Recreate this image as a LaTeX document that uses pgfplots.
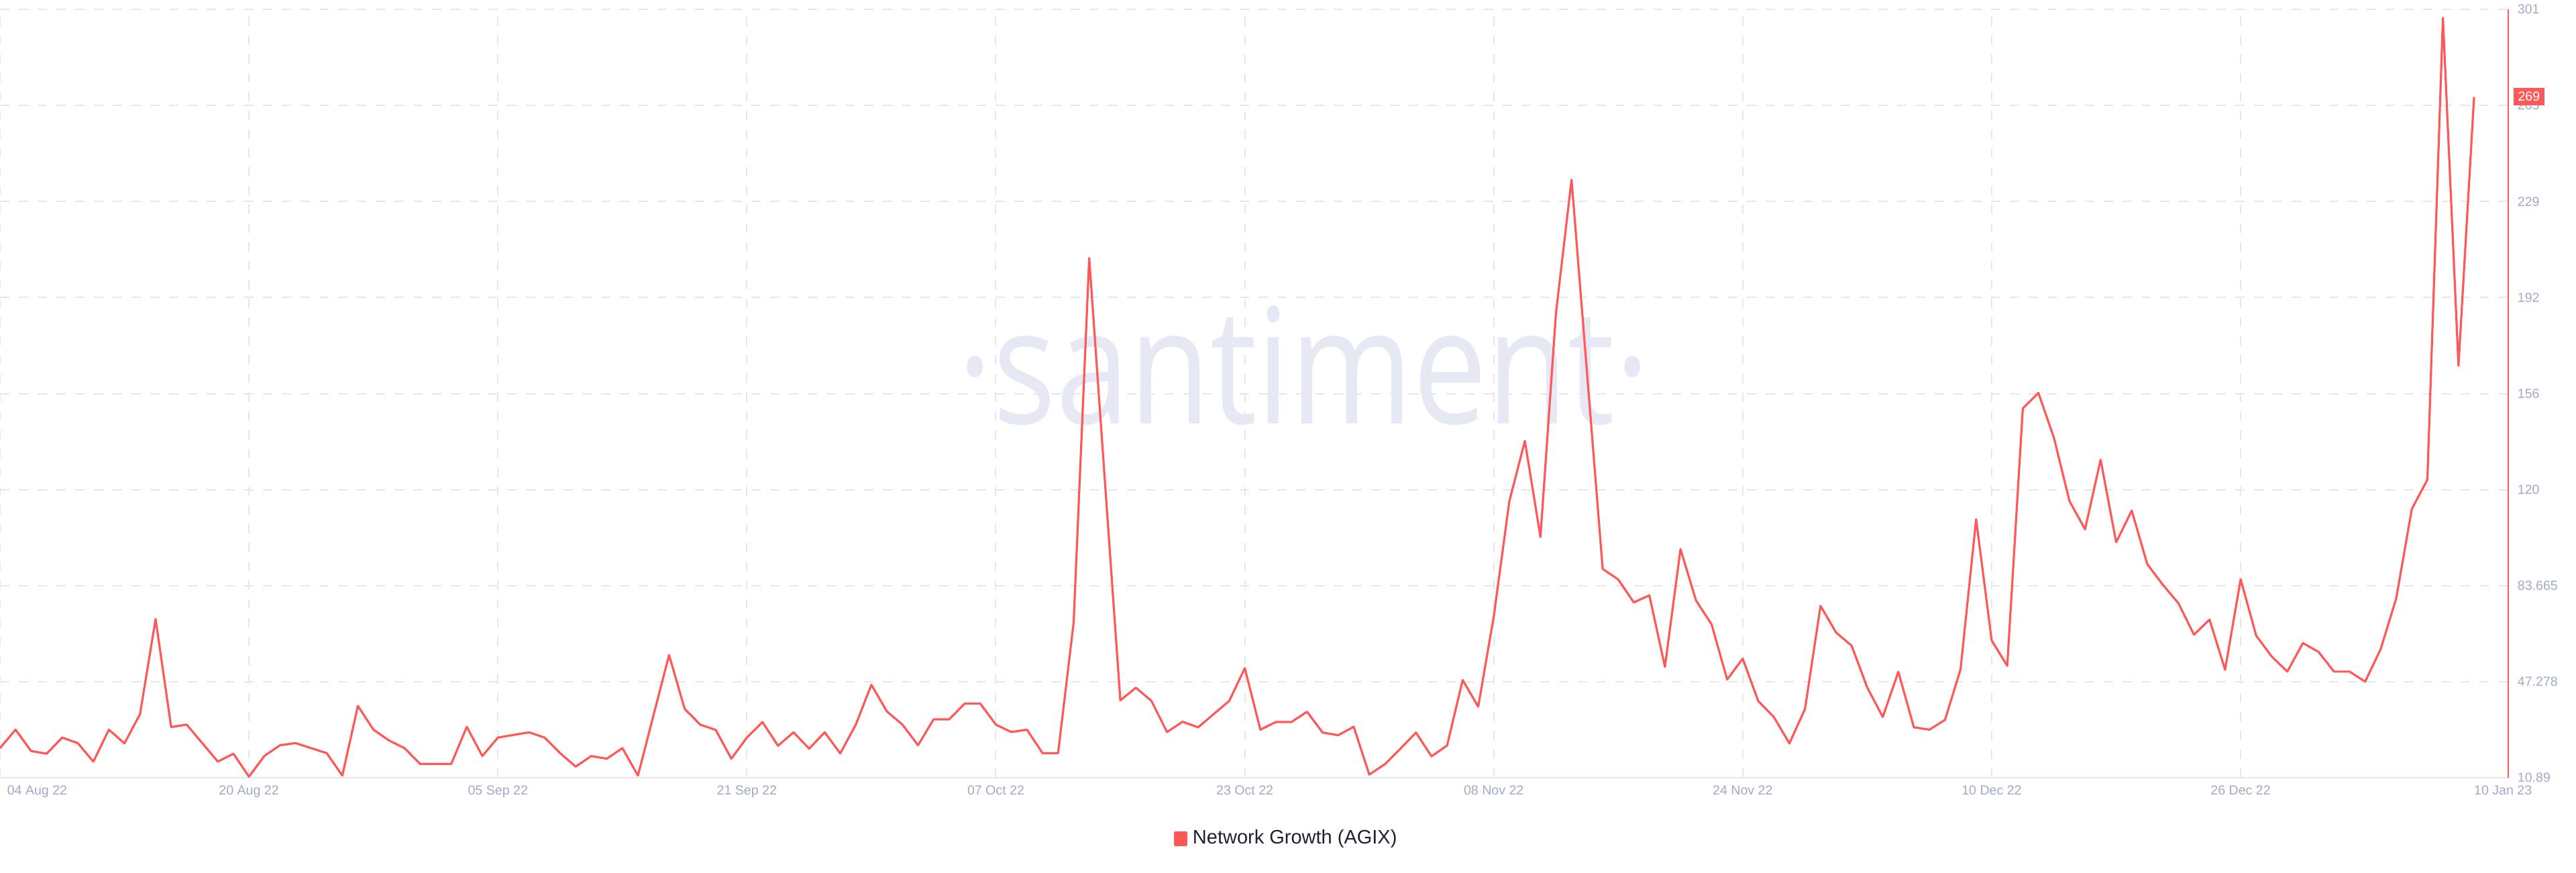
\documentclass[border=0pt]{standalone}
\usepackage{pgfplots}
\pgfplotsset{compat=1.18}
\usepackage{fontspec}
\setmainfont{Liberation Sans}
\newfontfamily\wmfont{Open Sans}
\definecolor{linered}{RGB}{255,88,88}
\definecolor{tickgray}{RGB}{160,170,196}
\definecolor{gridgray}{RGB}{228,231,242}
\definecolor{wmcolor}{RGB}{230,233,244}
\definecolor{legtext}{RGB}{30,33,48}
\pgfplotstableread{
d v
0 22.1
1 29.1
2 21.0
3 20.0
4 26.1
5 24.0
6 17.0
7 29.1
8 23.9
9 35.0
10 71.0
11 30.1
12 31.0
13 24.0
14 17.0
15 20.0
16 11.3
17 19.2
18 23.2
19 24.0
20 22.1
21 20.2
22 11.7
23 38.1
24 29.1
25 25.0
26 22.1
27 16.1
28 16.1
29 16.1
30 30.2
31 19.1
32 26.1
33 27.1
34 28.1
35 26.1
36 20.2
37 15.1
38 19.1
39 18.1
40 22.1
41 11.7
42 34.6
43 57.4
44 37.0
45 31.0
46 29.0
47 18.1
48 26.1
49 32.0
50 23.0
51 28.1
52 21.9
53 28.1
54 20.1
55 31.0
56 46.1
57 36.0
58 31.0
59 23.2
60 33.0
61 33.0
62 39.0
63 39.0
64 31.0
65 28.2
66 29.1
67 20.2
68 20.2
69 69.7
70 207.8
71 124.0
72 40.2
73 45.0
74 40.0
75 28.2
76 32.1
77 30.0
78 35.0
79 40.0
80 52.4
81 29.1
82 32.0
83 32.0
84 35.9
85 28.0
86 27.0
87 30.2
88 12.1
89 16.0
90 21.9
91 28.0
92 19.0
93 23.1
94 47.9
95 37.8
96 72.0
97 115.6
98 138.5
99 102.1
100 187.1
101 237.5
102 163.8
103 90.0
104 86.0
105 77.3
106 80.0
107 52.9
108 97.5
109 78.0
110 69.0
111 48.1
112 56.0
113 39.9
114 33.9
115 23.9
116 36.9
117 76.0
118 65.9
119 60.9
120 45.1
121 33.9
122 51.0
123 30.0
124 29.1
125 32.8
126 52.0
127 108.8
128 62.9
129 53.3
130 150.8
131 156.7
132 139.7
133 115.7
134 105.0
135 131.4
136 100.1
137 112.1
138 91.8
139 84.0
140 77.0
141 65.1
142 70.8
143 51.8
144 86.1
145 64.7
146 56.8
147 51.1
148 61.9
149 58.6
150 51.1
151 51.1
152 47.3
153 59.6
154 78.9
155 112.7
156 123.8
157 298.8
158 167.0
159 268.8
}\datatable
\begin{document}
\begin{tikzpicture}[x=1pt,y=1pt]
\path[use as bounding box] (0,-35.25) rectangle (960,289.75);
\begin{axis}[
  at={(0,0)}, anchor=south west,
  scale only axis, width=934.75pt, height=286.25pt,
  xmin=0, xmax=161.2, ymin=10.89, ymax=301.99,
  clip=false,
  axis x line*=bottom, axis y line*=right,
  x axis line style={draw=gridgray, line width=0.55pt},
  y axis line style={draw=linered, line width=0.45pt},
  xtick={0,16,32,48,64,80,96,112,128,144},
  xticklabels={,20 Aug 22,05 Sep 22,21 Sep 22,07 Oct 22,23 Oct 22,08 Nov 22,24 Nov 22,10 Dec 22,26 Dec 22},
  ytick={10.89,47.2775,83.665,120.0525,156.44,192.8275,229.215,265.6025,301.99},
  yticklabels={10.89,47.278,83.665,120,156,192,229,265,301},
  major tick length=0pt,
  tick style={draw=none},
  grid=major,
  major grid style={draw=gridgray, line width=0.5pt, dash pattern=on 3.5pt off 3.5pt},
  xticklabel style={font=\fontsize{4.9}{6}\selectfont, text=tickgray, anchor=north, inner sep=0pt, yshift=-2.7pt},
  yticklabel style={font=\fontsize{4.9}{6}\selectfont, text=tickgray, anchor=west, inner sep=0pt, xshift=3.25pt},
  legend style={at={(0.5135,-0.0795)}, anchor=center, draw=none, fill=none, font=\fontsize{7.25}{8}\selectfont, text=legtext, inner sep=0pt},
  legend image code/.code={\fill[linered] (0pt,-2.35pt) rectangle (4.3pt,2.35pt);},
]
\node[font=\wmfont\fontsize{60}{60}\selectfont, text=wmcolor, anchor=base, xscale=0.82, transform shape] at (axis cs:83.8,144.9) {·santiment·};
\addplot[draw=linered, line width=0.8pt, line join=round, mark=none] table[x=d, y=v] {\datatable};
\addlegendentry{Network Growth (AGIX)}
\node[font=\fontsize{4.9}{6}\selectfont, text=tickgray, anchor=north west, inner sep=0pt, xshift=2.5pt, yshift=-2.7pt] at (axis cs:0,10.89) {04 Aug 22};
\node[font=\fontsize{4.9}{6}\selectfont, text=tickgray, anchor=north, inner sep=0pt, yshift=-2.7pt] at (axis cs:160.86,10.89) {10 Jan 23};
\coordinate (lastv) at (axis cs:161.2,269);
\end{axis}
\node[fill=linered, text=white, font=\fontsize{4.9}{6}\selectfont, anchor=west, inner sep=0pt, minimum width=11.5pt, minimum height=6.5pt] at ([xshift=1.75pt]lastv) {269};
\end{tikzpicture}
\end{document}
